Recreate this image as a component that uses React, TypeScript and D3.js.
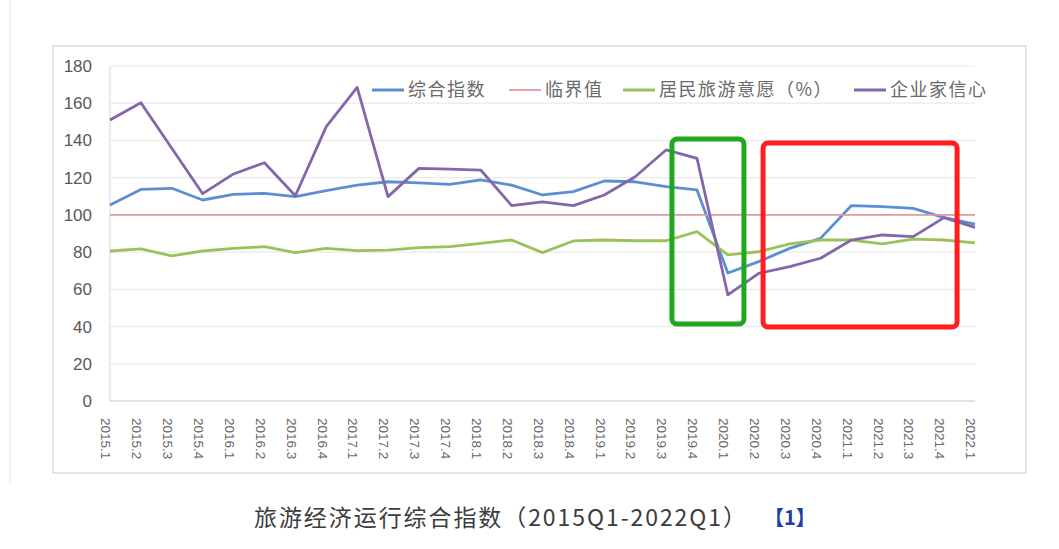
import React from 'react'
import * as d3 from 'd3'

const quarters = [
  '2015.1', '2015.2', '2015.3', '2015.4',
  '2016.1', '2016.2', '2016.3', '2016.4',
  '2017.1', '2017.2', '2017.3', '2017.4',
  '2018.1', '2018.2', '2018.3', '2018.4',
  '2019.1', '2019.2', '2019.3', '2019.4',
  '2020.1', '2020.2', '2020.3', '2020.4',
  '2021.1', '2021.2', '2021.3', '2021.4',
  '2022.1',
]

// 综合指数
const composite = [
  105.3, 113.7, 114.3, 108, 111, 111.6, 109.8, 113,
  116, 117.8, 117.2, 116.4, 118.8, 116, 110.7, 112.5,
  118.2, 117.8, 115.2, 113.4, 68.8, 74.9, 82, 87.4,
  105, 104.4, 103.5, 98.5, 95,
]
// 临界值
const threshold = 100
// 居民旅游意愿（%）
const willingness = [
  80.6, 81.7, 78, 80.6, 82, 82.9, 79.7, 82,
  80.8, 81.1, 82.4, 82.9, 84.7, 86.5, 79.7, 86,
  86.5, 86.1, 86.1, 91, 78.5, 80.2, 84.4, 86.5,
  86.5, 84.4, 87, 86.5, 85,
]
// 企业家信心
const confidence = [
  151, 160.3, 135.8, 111.4, 122, 128, 110.3, 147.4,
  168.5, 109.8, 125, 124.6, 124.1, 105, 107, 105,
  110.7, 120.5, 134.9, 130.4, 57, 68.6, 72.2, 76.7,
  86.5, 89.2, 88.3, 98.5, 93.3,
]

const yTicks = [0, 20, 40, 60, 80, 100, 120, 140, 160, 180]

const legendNames = ['综合指数', '临界值', '居民旅游意愿（%）', '企业家信心']
const colors = ['#5b8fd1', '#e39a9a', '#9bc25a', '#8466ab']

// highlight boxes (in quarter index / value units)
const boxes = [
  { i0: 18.19, i1: 20.52, v0: 41.4, v1: 140.8, color: '#1fa81f' },
  { i0: 21.14, i1: 27.42, v0: 39.8, v1: 138.6, color: '#ff1d1d' },
]

const W = 1059
const H = 549
const left = 110
const right = 975
const top = 66
const bottom = 401

export default function App() {
  const x = d3.scalePoint<string>().domain(quarters).range([left, right]).padding(0)
  const xi = d3.scaleLinear().domain([0, quarters.length - 1]).range([left, right])
  const y = d3.scaleLinear().domain([0, 180]).range([bottom, top])

  const line = d3.line<number>()
    .x((d, i) => x(quarters[i]) as number)
    .y(d => y(d))

  const series = [composite, quarters.map(() => threshold), willingness, confidence]

  const legendX = [372, 509, 623, 854]

  const fontCJK = '"Noto Sans CJK SC", "Liberation Sans", sans-serif'
  const fontNum = '"Liberation Sans", Arial, sans-serif'

  return (
    <svg width={W} height={H} style={{ position: 'fixed', left: 0, top: 0, background: '#fff' }}>
      <line x1={10} x2={10} y1={0} y2={485} stroke="#f0f0f0" strokeWidth={1.5} />
      <rect x={53} y={46} width={973} height={427} fill="none" stroke="#dcdcdc" strokeWidth={1.5} />

      {/* grid */}
      {yTicks.map(t => (
        <line key={t} x1={left} x2={right} y1={y(t)} y2={y(t)}
          stroke={t === 0 ? '#d9d9d9' : '#eaeaea'} strokeWidth={t === 0 ? 1.5 : 1.2} />
      ))}
      <line x1={left} x2={left} y1={top} y2={bottom} stroke="#dedede" strokeWidth={1.2} />

      {/* y labels */}
      {yTicks.map(t => (
        <text key={t} x={92} y={y(t)} dy="0.35em" textAnchor="end"
          fontFamily={fontNum} fontSize={17} fill="#595959">{t}</text>
      ))}

      {/* x labels */}
      {quarters.map(q => (
        <text key={q} transform={`translate(${(x(q) as number) - 4},418) rotate(90)`}
          textAnchor="start" dy="0.35em" fontFamily={fontNum} fontSize={13.5} fill="#666">{q}</text>
      ))}

      {/* series */}
      {series.map((s, k) => (
        <path key={k} d={line(s) as string} fill="none" stroke={colors[k]}
          strokeWidth={k === 1 ? 1.6 : 2.8} strokeLinejoin="round" />
      ))}

      {/* legend */}
      {legendNames.map((n, k) => (
        <g key={n}>
          <line x1={legendX[k]} x2={legendX[k] + 32} y1={90} y2={90} stroke={colors[k]}
            strokeWidth={k === 1 ? 1.8 : 3} />
          <text x={legendX[k] + 36} y={90} dy="0.36em" fontFamily={fontCJK} fontSize={18}
            letterSpacing={1.5} fill="#6a6a6a">{n}</text>
        </g>
      ))}

      {/* highlight boxes */}
      {boxes.map((b, k) => (
        <rect key={k} x={xi(b.i0)} y={y(b.v1)} width={xi(b.i1) - xi(b.i0)} height={y(b.v0) - y(b.v1)}
          rx={5} fill="none" stroke={b.color} strokeWidth={5} />
      ))}

      {/* caption */}
      <text x={254} y={518} dy="0.35em" fontFamily={fontCJK} fontSize={23} fill="#3c3c3c"
        textLength={492} lengthAdjust="spacing">
        旅游经济运行综合指数（2015Q1-2022Q1）
      </text>
      <text x={764} y={518} dy="0.35em" fontFamily={fontCJK} fontSize={20} fontWeight="bold" fill="#1b3fa6">
        【1】
      </text>
    </svg>
  )
}
